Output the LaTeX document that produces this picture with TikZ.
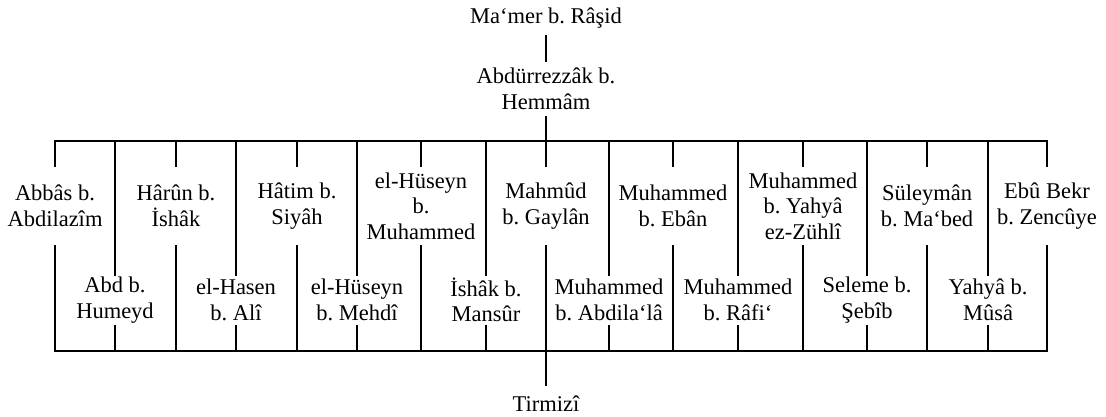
\documentclass[tikz,border=0pt]{standalone}
\usepackage{fontspec}
\setmainfont{Liberation Serif}
\frenchspacing
\begin{document}
\begin{tikzpicture}[x=1pt,y=-1pt,
  line width=2pt,
  lbl/.style={inner sep=0pt,outer sep=0pt,align=center,
    font=\fontsize{22.5}{25.5}\selectfont},
  toprow/.style={lbl,minimum height=78pt},
  lowrow/.style={lbl,minimum height=49pt}]
\useasboundingbox (0,0) rectangle (1106,416);

% chain at the top
\node[lbl,minimum height=34pt] (mamer) at (546,18) {Ma‘mer b. Râşid};
\node[lbl,minimum height=54pt] (abdur) at (546,89) {Abdürrezzâk b.\\Hemmâm};

% upper row of students
\node[toprow] (abbas)    at (55,206)   {Abbâs b.\\Abdilazîm};
\node[toprow] (harun)    at (176,206)  {Hârûn b.\\İshâk};
\node[toprow] (hatim)    at (297,206)  {Hâtim b.\\Siyâh};
\node[toprow] (husmuh)   at (421,206)  {el-Hüseyn\\b.\\Muhammed};
\node[toprow] (mahmud)   at (546,206)  {Mahmûd\\b. Gaylân};
\node[toprow] (muheban)  at (673,206)  {Muhammed\\b. Ebân};
\node[toprow] (muhyahya) at (803,206)  {Muhammed\\b. Yahyâ\\ez-Zühlî};
\node[toprow] (suleyman) at (927,206)  {Süleymân\\b. Ma‘bed};
\node[toprow] (ebubekr)  at (1047,206) {Ebû Bekr\\b. Zencûye};

% lower row of students
\node[lowrow] (abd)      at (115,300) {Abd b.\\Humeyd};
\node[lowrow] (hasen)    at (236,300) {el-Hasen\\b. Alî};
\node[lowrow] (husmehdi) at (357,300) {el-Hüseyn\\b. Mehdî};
\node[lowrow] (ishak)    at (486,300) {İshâk b.\\Mansûr};
\node[lowrow] (muhabd)   at (609,300) {Muhammed\\b. Abdila‘lâ};
\node[lowrow] (muhrafi)  at (738,300) {Muhammed\\b. Râfi‘};
\node[lowrow] (seleme)   at (867,300) {Seleme b.\\Şebîb};
\node[lowrow] (yahya)    at (988,300) {Yahyâ b.\\Mûsâ};

% collector at the bottom
\node[lbl,minimum height=36pt] (tirmizi) at (546,404) {Tirmizî};

% levels of the two bars
\coordinate (upbar) at (546,141);
\coordinate (lowbar) at (546,351);

\draw (mamer) -- (abdur);
\draw (abdur.south) -- (upbar);
\draw (abbas.north) -- (abbas.north |- upbar) -- (ebubekr.north |- upbar) -- (ebubekr.north);
\draw (abbas.south) -- (abbas.south |- lowbar) -- (ebubekr.south |- lowbar) -- (ebubekr.south);
\draw (lowbar) -- (tirmizi.north);

\foreach \n in {harun,hatim,husmuh,mahmud,muheban,muhyahya,suleyman}{
  \draw (\n.north) -- (\n.north |- upbar);
  \draw (\n.south) -- (\n.south |- lowbar);
}
\foreach \n in {abd,hasen,husmehdi,ishak,muhabd,muhrafi,seleme,yahya}{
  \draw (\n.north) -- (\n.north |- upbar);
  \draw (\n.south) -- (\n.south |- lowbar);
}
\end{tikzpicture}
\end{document}
